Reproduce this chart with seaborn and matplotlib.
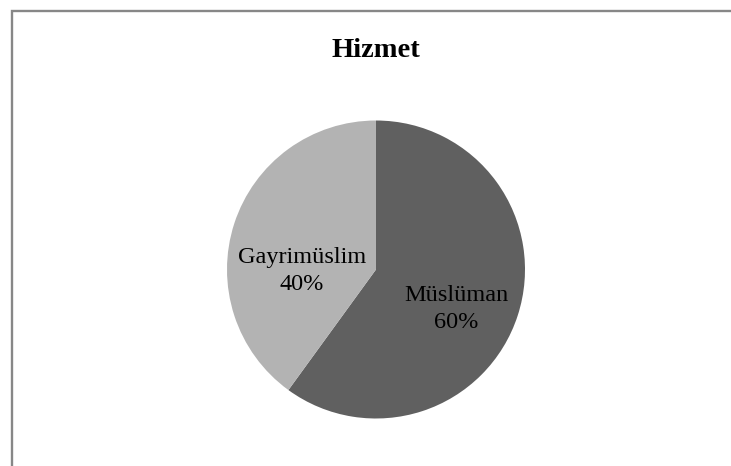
import matplotlib
matplotlib.use('Agg')
import matplotlib.pyplot as plt
import seaborn as sns
from matplotlib.patches import Rectangle

# data
categories = ['Müslüman', 'Gayrimüslim']
shares = [60, 40]
slice_colors = ['#606060', '#b3b3b3']
title = 'Hizmet'

sns.set_theme(style='white')
plt.rcParams['font.family'] = ['Liberation Serif', 'DejaVu Serif']

W, H = 731, 466
fig = plt.figure(figsize=(W / 100, H / 100), dpi=100)
fig.patch.set_facecolor('white')

# chart frame (cropped: only top and left visible)
top = 1 - 10.5 / H
fig.patches.append(Rectangle((12 / W, -0.2), 1.2, top + 0.2,
                             transform=fig.transFigure, fill=False,
                             edgecolor='#878787', linewidth=1.7))

# pie axes
cx, cy, r = 376, 269.5, 149
ax = fig.add_axes([(cx - r) / W, 1 - (cy + r) / H, 2 * r / W, 2 * r / H])
wedges, _ = ax.pie(shares, colors=slice_colors, startangle=90, counterclock=False,
                   radius=1, wedgeprops=dict(linewidth=0))
ax.set_xlim(-1, 1)
ax.set_ylim(-1, 1)
ax.set_aspect('equal')
ax.axis('off')

label_pos = [(0.537, -0.265), (-0.497, -0.01)]
for name, val, (x, y) in zip(categories, shares, label_pos):
    ax.text(x, y, f'{name}\n{val}%', ha='center', va='center',
            fontsize=17.5, color='black', linespacing=1.4)

fig.text(375.5 / W, 1 - 57 / H, title, ha='center', va='baseline',
         fontsize=20.5, fontweight='bold', color='black')

fig.savefig('out.png', dpi=100)
